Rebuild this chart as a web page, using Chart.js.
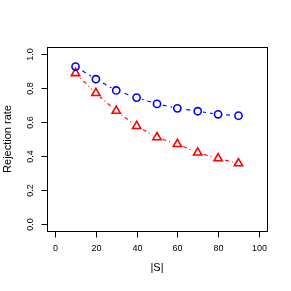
<!DOCTYPE html>
<html>
<head>
<meta charset="utf-8">
<script src="https://cdn.jsdelivr.net/npm/chart.js@4"></script>
<style>
html, body { margin: 0; padding: 0; background: #fff; }
canvas { display: block; }
</style>
</head>
<body>
<canvas id="graph" width="291" height="291"></canvas>
<script>
var sizes = [10, 20, 30, 40, 50, 60, 70, 80, 90];
var blueRate = [0.925, 0.851, 0.785, 0.743, 0.706, 0.680, 0.663, 0.645, 0.637];
var redRate = [0.886, 0.769, 0.665, 0.576, 0.510, 0.470, 0.420, 0.386, 0.357];
var xTicks = [0, 20, 40, 60, 80, 100];
var yTicks = [0, 0.2, 0.4, 0.6, 0.8, 1.0];
var xTitle = '|S|';
var yTitle = 'Rejection rate';

var font = '"Liberation Sans", Arial, sans-serif';
var blue = 'rgb(0,0,255)';
var red = 'rgb(255,0,0)';

function toPoints(vals){
    var pts = [];
    for(let i = 0; i < sizes.length; i++){
        pts.push({x: sizes[i], y: vals[i]});
    }
    return pts;
}

// R-style box, ticks and labels drawn from the chart's own scales
var rAxes = {
    id: 'rAxes',
    afterDraw: function(chart){
        var c = chart.ctx;
        var a = chart.chartArea;
        var xs = chart.scales.x;
        var ys = chart.scales.y;
        c.save();
        c.strokeStyle = '#000';
        c.lineWidth = 1;
        c.strokeRect(Math.round(a.left) + 0.5, Math.round(a.top) + 0.5,
            Math.round(a.right - a.left), Math.round(a.bottom - a.top));
        c.fillStyle = '#000';
        c.font = '9px ' + font;
        // x axis
        var bx = Math.round(a.bottom) + 0.5;
        c.textAlign = 'center';
        c.textBaseline = 'middle';
        for(let i = 0; i < xTicks.length; i++){
            let px = Math.round(xs.getPixelForValue(xTicks[i])) + 0.5;
            c.beginPath();
            c.moveTo(px, bx);
            c.lineTo(px, bx + 6);
            c.stroke();
            c.fillText(String(xTicks[i]), px, 249);
        }
        // y axis
        var lx = Math.round(a.left) + 0.5;
        for(let i = 0; i < yTicks.length; i++){
            let py = Math.round(ys.getPixelForValue(yTicks[i])) + 0.5;
            c.beginPath();
            c.moveTo(lx, py);
            c.lineTo(lx - 6, py);
            c.stroke();
            c.save();
            c.translate(31, py);
            c.rotate(-Math.PI / 2);
            c.fillText(yTicks[i].toFixed(1), 0, 0);
            c.restore();
        }
        // titles
        c.font = '11px ' + font;
        c.fillText(xTitle, (a.left + a.right) / 2, 268);
        c.save();
        c.translate(8, (a.top + a.bottom) / 2);
        c.rotate(-Math.PI / 2);
        c.fillText(yTitle, 0, 0);
        c.restore();
        c.restore();
    }
};

function lineSet(vals, color, dash){
    return {
        data: toPoints(vals), showLine: true, order: 3,
        borderColor: color, borderWidth: 1.1, borderDash: dash,
        pointRadius: 0
    };
}
function haloSet(vals){
    return {
        data: toPoints(vals), showLine: false, order: 2,
        pointStyle: 'circle', pointRadius: 5.5, pointBorderWidth: 0,
        pointBackgroundColor: '#fff', pointBorderColor: '#fff'
    };
}
function markSet(vals, color, style, r){
    return {
        data: toPoints(vals), showLine: false, order: 1,
        pointStyle: style, pointRadius: r, pointBorderWidth: 1.6,
        pointBorderColor: color, pointBackgroundColor: 'rgba(255,255,255,0)'
    };
}

var ctx = document.getElementById('graph').getContext('2d');
var chart = new Chart(ctx, {
    type: 'scatter',
    data: {
        datasets: [
            lineSet(blueRate, blue, [4, 4]),
            lineSet(redRate, red, [4, 3, 1, 3]),
            haloSet(blueRate),
            haloSet(redRate),
            markSet(blueRate, blue, 'circle', 3.6),
            markSet(redRate, red, 'triangle', 4.8)
        ]
    },
    options: {
        responsive: false,
        animation: false,
        layout: {padding: {left: 47, top: 47, right: 24, bottom: 60}},
        plugins: {legend: {display: false}, tooltip: {enabled: false}},
        scales: {
            x: {type: 'linear', display: false, min: -4, max: 104},
            y: {type: 'linear', display: false, min: -0.04, max: 1.04}
        }
    },
    plugins: [rAxes]
});
</script>
</body>
</html>
